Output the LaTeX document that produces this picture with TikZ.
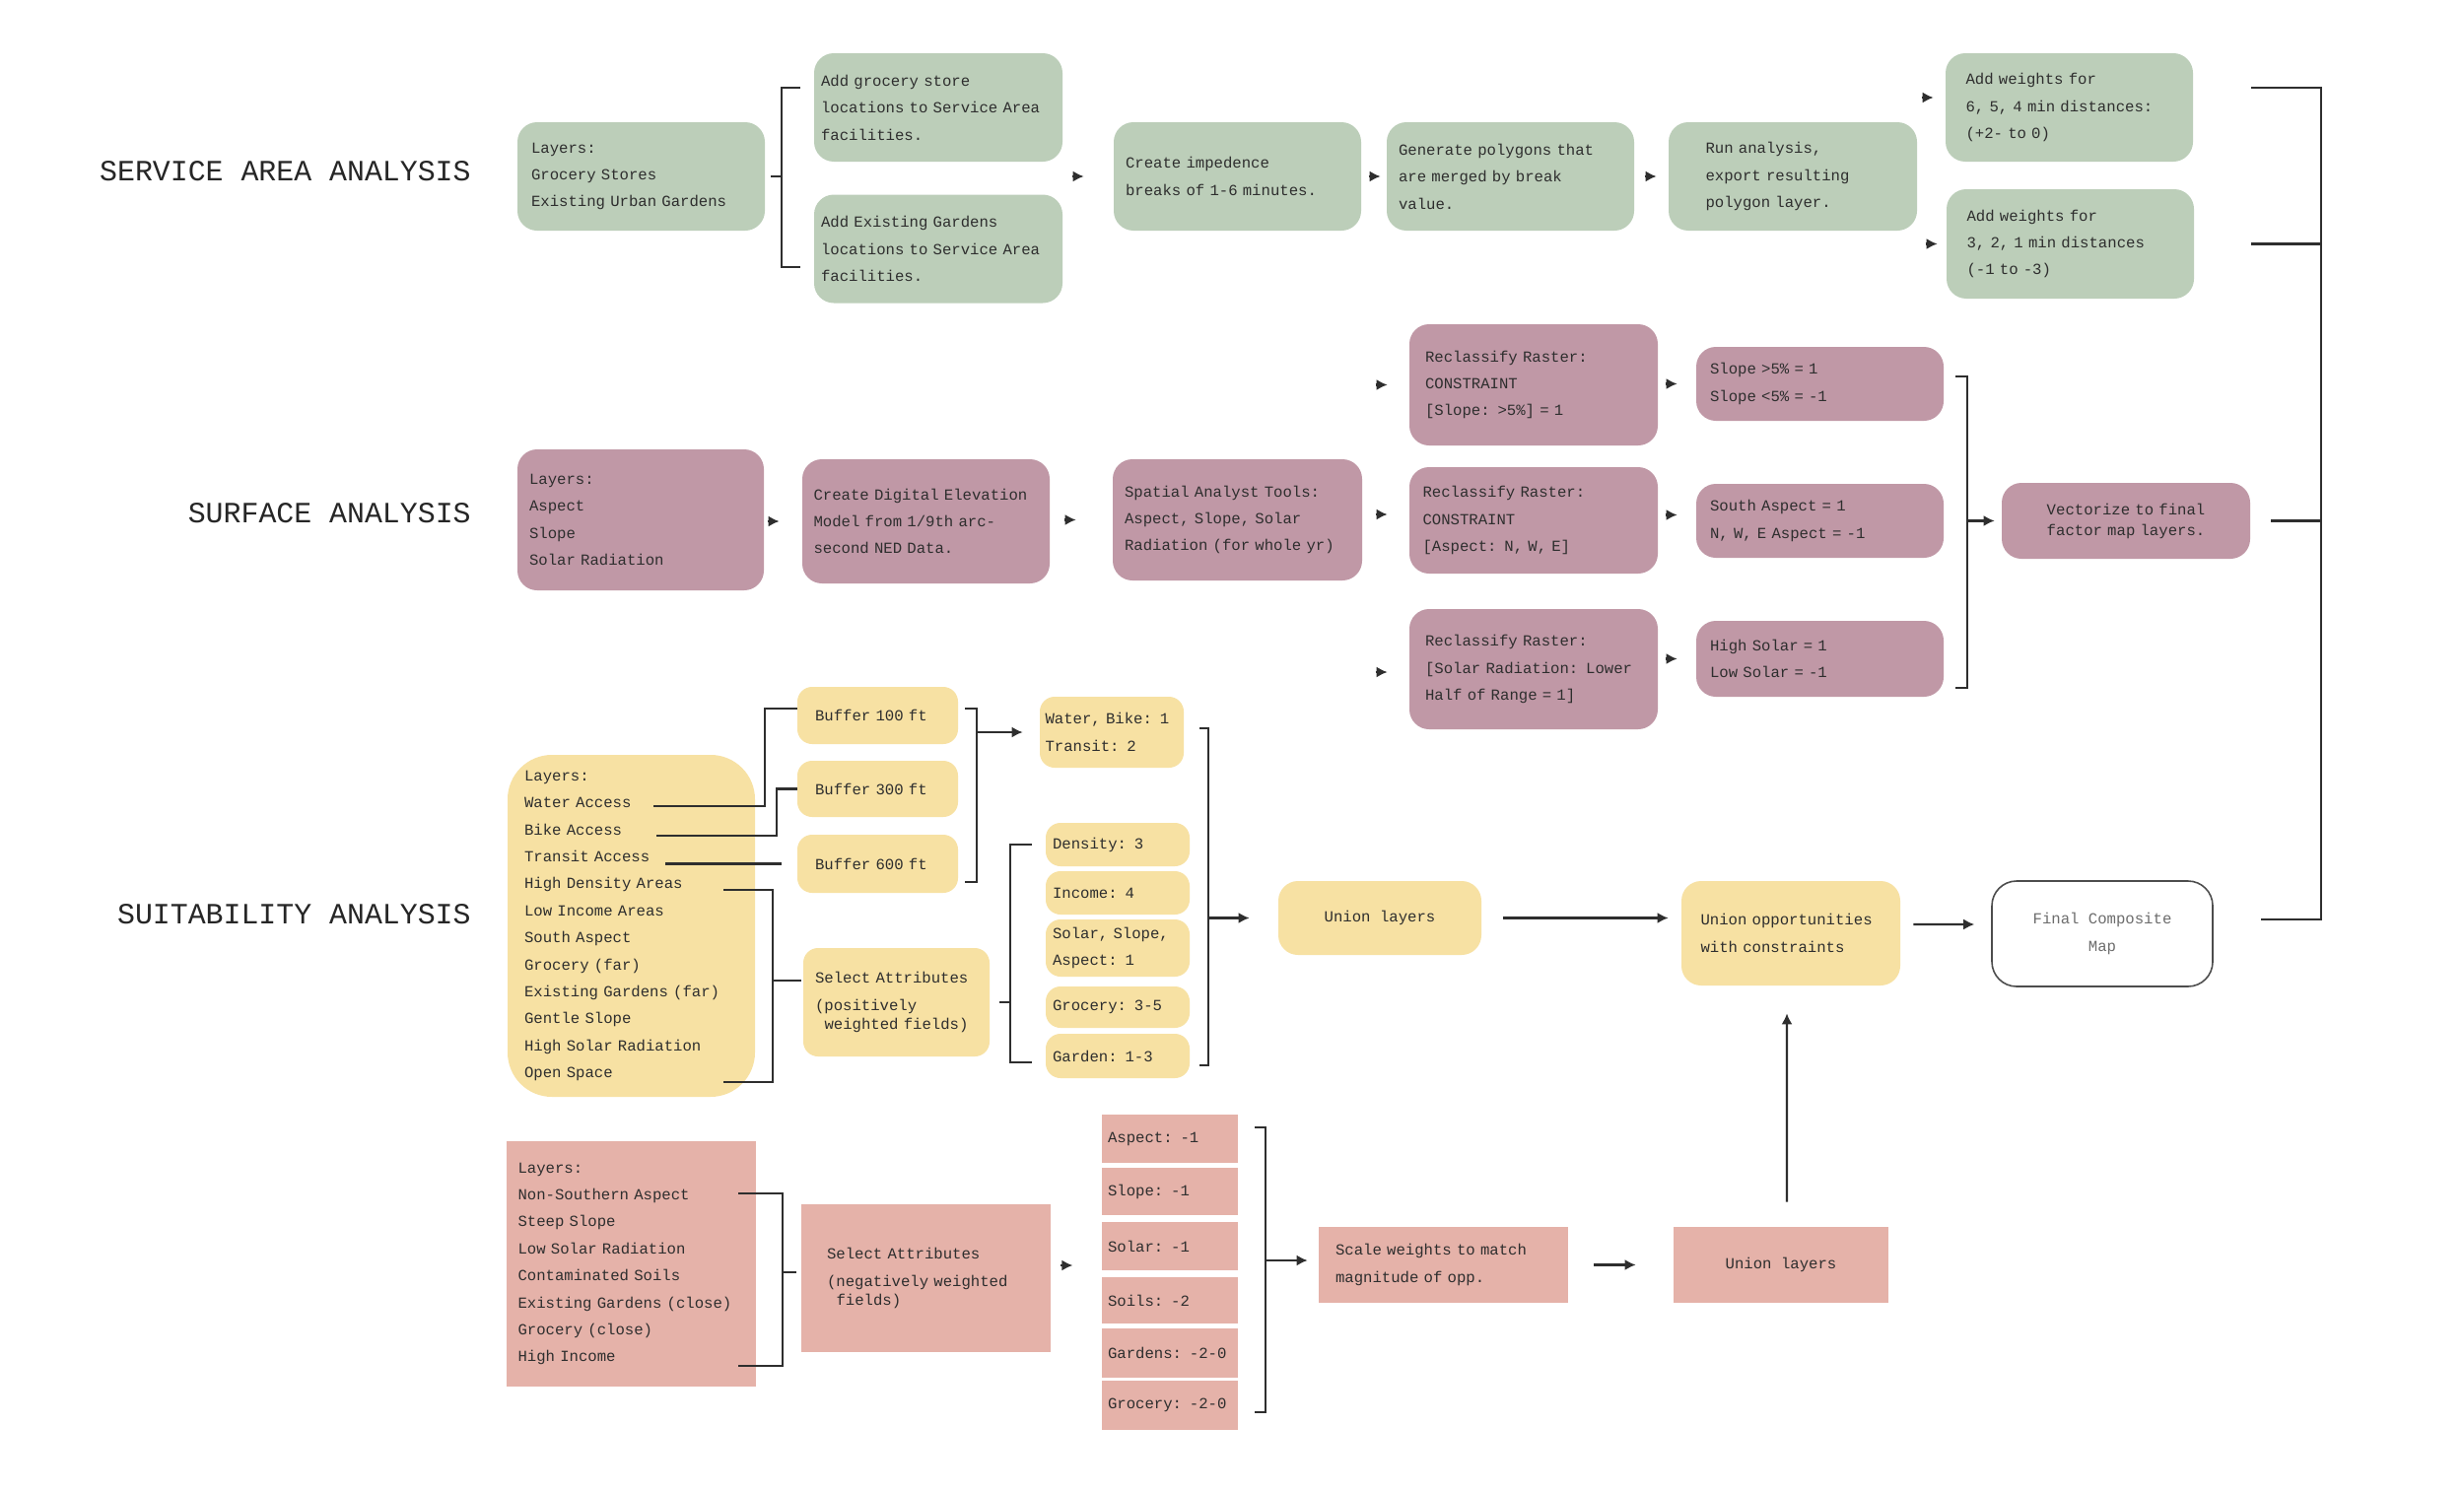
\documentclass[tikz,border=0pt]{standalone}
\usepackage{fontspec}
\usepackage{tikz}
\usetikzlibrary{positioning,arrows.meta,calc}
\newfontfamily\flowmono{Liberation Mono}
\definecolor{sage}{HTML}{BCCEB9}
\definecolor{mauve}{HTML}{C098A6}
\definecolor{butter}{HTML}{F7E1A3}
\definecolor{blush}{HTML}{E5B2A9}
\definecolor{ink}{HTML}{2E2E2E}

\begin{document}
\begin{tikzpicture}[x=1cm,y=-1cm,
  txt/.style={font=\flowmono\fontsize{8.9}{15.6}\selectfont,text=ink,align=left,inner sep=0pt},
  sechead/.style={font=\flowmono\fontsize{17}{20}\selectfont,text=black!85,anchor=east,inner sep=0pt},
  gbox/.style={txt,fill=sage,rounded corners=0.4cm,minimum width=5.02cm,minimum height=2.2cm,text width=4.54cm},
  mbox/.style={txt,fill=mauve,rounded corners=0.4cm,minimum width=5.04cm,text width=4.46cm},
  ybox/.style={txt,fill=butter,rounded corners=0.3cm},
  pbox/.style={txt,fill=blush},
  link/.style={draw=ink,line width=1.2pt},
  flow/.style={link,-{Latex[length=2.2mm,width=2.2mm]}}]
\fill[white] (0,0) rectangle (50,30.28);
% service area analysis
\node[sechead] (tsvc) at (9.56,3.48) {SERVICE AREA ANALYSIS};
\node[gbox,text width=4.46cm] (g1) at (13.01,3.58) {Layers:\\Grocery Stores\\Existing Urban Gardens};
\node[gbox,minimum width=5.04cm,text width=4.76cm] (g2) at (19.04,2.18) {Add grocery store\\locations to Service Area\\facilities.};
\node[gbox,minimum width=5.04cm,text width=4.76cm] (g3) at (19.04,5.05) {Add Existing Gardens\\locations to Service Area\\facilities.};
\node[gbox] (g4) at (25.11,3.58) {Create impedence\\breaks of 1-6 minutes.};
\node[gbox] (g5) at (30.65,3.58) {Generate polygons that\\are merged by break\\value.};
\node[gbox,minimum width=5.04cm,text width=3.54cm] (g6) at (36.38,3.58) {Run analysis,\\export resulting\\polygon layer.};
\node[gbox,text width=4.2cm] (g7) at (41.99,2.18) {Add weights for\\6, 5, 4 min distances:\\(+2- to 0)};
\node[gbox,text width=4.2cm,minimum height=2.22cm] (g8) at (42.01,4.95) {Add weights for\\3, 2, 1 min distances\\(-1 to -3)};
\draw[link] ([xshift=0.12cm]g1.east) -- ++(0.22,0);
\draw[link] ([xshift=-0.28cm,yshift=0.4cm]g2.west) -- ++(-0.38,0) |- ([xshift=-0.28cm,yshift=-0.37cm]g3.west);
\draw[flow] ([xshift=-0.84cm]g4.west) -- ++(0.24,0);
\draw[flow] ([xshift=-0.36cm]g5.west) -- ++(0.24,0);
\draw[flow] ([xshift=-0.48cm]g6.west) -- ++(0.24,0);
\draw[flow] ([xshift=-0.48cm,yshift=0.2cm]g7.west) -- ++(0.24,0);
\draw[flow] ([xshift=-0.42cm]g8.west) -- ++(0.24,0);
% surface analysis
\node[sechead] (tsrf) at (9.56,10.42) {SURFACE ANALYSIS};
\node[mbox,minimum width=5cm,minimum height=2.86cm,text width=4.52cm] (m1) at (13.0,10.55) {Layers:\\Aspect\\Slope\\Solar Radiation};
\node[mbox,minimum width=5.02cm,minimum height=2.52cm,text width=4.56cm] (m2) at (18.79,10.58) {Create Digital Elevation\\Model from 1/9th arc-\\second NED Data.};
\node[mbox,minimum width=5.06cm,minimum height=2.46cm,text width=4.58cm] (m3) at (25.11,10.55) {Spatial Analyst Tools:\\Aspect, Slope, Solar\\Radiation (for whole yr)};
\node[mbox,minimum height=2.46cm,text width=4.4cm] (m4) at (31.12,7.81) {Reclassify Raster:\\CONSTRAINT\\{}[Slope: >5\%] = 1};
\node[mbox,minimum height=2.16cm,text width=4.5cm] (m5) at (31.12,10.56) {Reclassify Raster:\\CONSTRAINT\\{}[Aspect: N, W, E]};
\node[mbox,minimum height=2.44cm,text width=4.4cm] (m6) at (31.12,13.58) {Reclassify Raster:\\{}[Solar Radiation: Lower\\Half of Range = 1]};
\node[mbox,minimum width=5.02cm,minimum height=1.5cm] (m7) at (36.93,7.79) {Slope >5\% = 1\\Slope <5\% = -1};
\node[mbox,minimum width=5.02cm,minimum height=1.5cm] (m8) at (36.93,10.57) {South Aspect = 1\\N, W, E Aspect = -1};
\node[mbox,minimum width=5.02cm,minimum height=1.54cm] (m9) at (36.93,13.37) {High Solar = 1\\Low Solar = -1};
\node[mbox,minimum height=1.54cm,align=center] (m10) at (43.14,10.57) {Vectorize to final\\[-0.13cm]factor map layers.};
\draw[flow] ([xshift=-0.7cm]m2.west) -- ++(0.24,0);
\draw[flow] ([xshift=-0.98cm]m3.west) -- ++(0.24,0);
\foreach \n/\dy in {m4/0,m5/0.12,m6/-0.06}{\draw[flow] ([xshift=-0.68cm,yshift=\dy cm]\n.west) -- ++(0.24,0);}
\foreach \n/\dy in {m7/0,m8/0.12,m9/0}{\draw[flow] ([xshift=-0.62cm,yshift=\dy cm]\n.west) -- ++(0.24,0);}
\draw[link] ([xshift=0.24cm,yshift=0.15cm]m7.east) -- ++(0.24,0) |- ([xshift=0.24cm,yshift=-0.59cm]m9.east);
\draw[flow] ([xshift=-0.7cm]m10.west) -- ([xshift=-0.14cm]m10.west);
% suitability analysis
\node[sechead] (tsuit) at (9.56,18.56) {SUITABILITY ANALYSIS};
\node[ybox,rounded corners=0.9cm,minimum width=5.02cm,minimum height=6.94cm,text width=4.34cm] (y1) at (12.81,18.79) {Layers:\\Water Access\\Bike Access\\Transit Access\\High Density Areas\\Low Income Areas\\South Aspect\\Grocery (far)\\Existing Gardens (far)\\Gentle Slope\\High Solar Radiation\\Open Space};
\node[ybox,minimum width=3.26cm,minimum height=1.16cm,text width=2.54cm] (b100) at (17.81,14.52) {Buffer 100 ft};
\node[ybox,minimum width=3.26cm,minimum height=1.14cm,text width=2.54cm] (b300) at (17.81,16.01) {Buffer 300 ft};
\node[ybox,minimum width=3.26cm,minimum height=1.18cm,text width=2.54cm] (b600) at (17.81,17.53) {Buffer 600 ft};
\node[ybox,minimum width=2.92cm,minimum height=1.44cm,text width=2.7cm] (wb) at (22.56,14.86) {Water, Bike: 1\\Transit: 2};
\node[ybox,minimum width=3.78cm,minimum height=2.2cm,text width=3.3cm] (ysel) at (18.19,20.34) {Select Attributes\\(positively\\[-0.16cm]\hspace*{0.19cm}weighted fields)};
\node[ybox,minimum width=2.92cm,minimum height=0.88cm,text width=2.64cm] (d3) at (22.68,17.14) {Density: 3};
\node[ybox,minimum width=2.92cm,minimum height=0.88cm,text width=2.64cm] (i4) at (22.68,18.12) {Income: 4};
\node[ybox,minimum width=2.92cm,minimum height=1.16cm,text width=2.64cm] (ssa) at (22.68,19.24) {Solar, Slope,\\Aspect: 1};
\node[ybox,minimum width=2.92cm,minimum height=0.84cm,text width=2.64cm] (g35) at (22.68,20.44) {Grocery: 3-5};
\node[ybox,minimum width=2.92cm,minimum height=0.9cm,text width=2.64cm] (gd13) at (22.68,21.43) {Garden: 1-3};
\node[ybox,rounded corners=0.4cm,minimum width=4.12cm,minimum height=1.5cm,align=center] (yu) at (28.0,18.63) {Union layers};
\node[ybox,rounded corners=0.4cm,minimum width=4.44cm,minimum height=2.12cm,text width=3.66cm] (yo) at (36.34,18.94) {Union opportunities\\with constraints};
\node[txt,draw=ink!85,line width=0.9pt,rounded corners=0.5cm,fill=white,minimum width=4.48cm,minimum height=2.14cm,align=center,text=ink!70] (fin) at (42.66,18.95) {Final Composite\\Map};
\coordinate (wa) at (13.26,16.36);
\coordinate (ba) at (13.32,16.96);
\coordinate (ta) at (13.5,17.53);
\coordinate (hd) at (14.68,18.06);
\coordinate (os) at (14.68,21.96);
\draw[link] (wa) -| ([xshift=-0.66cm,yshift=0.14cm]b100.west) -- ([yshift=0.14cm]b100.west);
\draw[link] (ba) -| ([xshift=-0.42cm]b300.west) -- (b300.west);
\draw[link] (ta) -- ([xshift=-0.32cm]b600.west);
\draw[link] (hd) -| ([xshift=-0.62cm,yshift=0.44cm]ysel.west) |- (os);
\draw[link] ([xshift=-0.62cm,yshift=0.44cm]ysel.west) -- ([xshift=-0.04cm,yshift=0.44cm]ysel.west);
\draw[link] ([xshift=0.14cm,yshift=0.14cm]b100.east) -- ++(0.24,0) |- ([xshift=0.14cm,yshift=-0.37cm]b600.east);
\draw[flow] ([xshift=-1.28cm]wb.west) -- ([xshift=-0.34cm]wb.west);
\draw[link] ([xshift=0.2cm]ysel.east) -- ++(0.22,0);
\draw[link] ([xshift=-0.28cm]d3.west) -- ++(-0.44,0) |- ([xshift=-0.28cm,yshift=-0.13cm]gd13.west);
\draw[link] ([xshift=0.32cm,yshift=0.08cm]wb.east) -- ++(0.18,0) |- ([xshift=0.2cm,yshift=-0.19cm]gd13.east);
\draw[flow] ([xshift=-1.42cm]yu.west) -- ([xshift=-0.58cm]yu.west);
\draw[flow] ([xshift=0.44cm]yu.east) -- ($(yo.west |- yu.east)+(-0.26,0)$);
\draw[flow] ([xshift=0.26cm,yshift=0.18cm]yo.east) -- ([xshift=-0.34cm,yshift=0.19cm]fin.west);
% negative weights
\node[pbox,minimum width=5.06cm,minimum height=4.98cm,text width=4.6cm] (p1) at (12.81,25.65) {Layers:\\Non-Southern Aspect\\Steep Slope\\Low Solar Radiation\\Contaminated Soils\\Existing Gardens (close)\\Grocery (close)\\High Income};
\node[pbox,minimum width=5.06cm,minimum height=3cm,text width=4.02cm] (p2) at (18.79,25.94) {Select Attributes\\(negatively weighted\\[-0.16cm]\hspace*{0.19cm}fields)};
\node[pbox,minimum width=2.76cm,minimum height=0.98cm,text width=2.52cm] (pa) at (23.74,23.11) {Aspect: -1};
\node[pbox,minimum width=2.76cm,minimum height=0.96cm,text width=2.52cm] (ps) at (23.74,24.18) {Slope: -1};
\node[pbox,minimum width=2.76cm,minimum height=0.98cm,text width=2.52cm] (pso) at (23.74,25.29) {Solar: -1};
\node[pbox,minimum width=2.76cm,minimum height=0.94cm,text width=2.52cm] (psoil) at (23.74,26.39) {Soils: -2};
\node[pbox,minimum width=2.76cm,minimum height=1cm,text width=2.52cm] (pg) at (23.74,27.46) {Gardens: -2-0};
\node[pbox,minimum width=2.76cm,minimum height=1cm,text width=2.52cm] (pgr) at (23.74,28.52) {Grocery: -2-0};
\node[pbox,minimum width=5.06cm,minimum height=1.54cm,text width=4.38cm] (p3) at (29.29,25.67) {Scale weights to match\\magnitude of opp.};
\node[pbox,minimum width=4.36cm,minimum height=1.54cm,align=center] (p4) at (36.14,25.67) {Union layers};
\coordinate (nsa) at (14.98,24.22);
\coordinate (hi) at (14.98,27.72);
\draw[link] (nsa) -| ([xshift=-0.38cm,yshift=0.12cm]p2.west) |- (hi);
\draw[link] ([xshift=-0.38cm,yshift=0.12cm]p2.west) -- ([xshift=-0.1cm,yshift=0.12cm]p2.west);
\draw[flow] ([xshift=0.2cm,yshift=0.26cm]p2.east) -- ++(0.24,0);
\draw[link] ([xshift=0.34cm,yshift=0.23cm]pa.east) -- ++(0.22,0) |- ([xshift=0.34cm,yshift=-0.14cm]pgr.east);
\draw[flow] ([xshift=-1.08cm,yshift=0.09cm]p3.west) -- ([xshift=-0.22cm,yshift=0.09cm]p3.west);
\draw[flow] ([xshift=0.52cm]p3.east) -- ([xshift=-0.76cm]p4.west);
\draw[flow] ([xshift=0.12cm,yshift=0.5cm]p4.north) -- ([xshift=-0.08cm,yshift=-0.56cm]yo.south);
% outer collector
\draw[link] ([xshift=1.18cm,yshift=0.4cm]g7.east) -- ++(1.42,0) coordinate (rt) |- ([xshift=0.96cm,yshift=0.29cm]fin.east);
\draw[link] ([xshift=1.16cm]g8.east) -- (rt |- g8.east);
\draw[link] ([xshift=0.42cm]m10.east) -- (rt |- m10.east);
\end{tikzpicture}
\end{document}
